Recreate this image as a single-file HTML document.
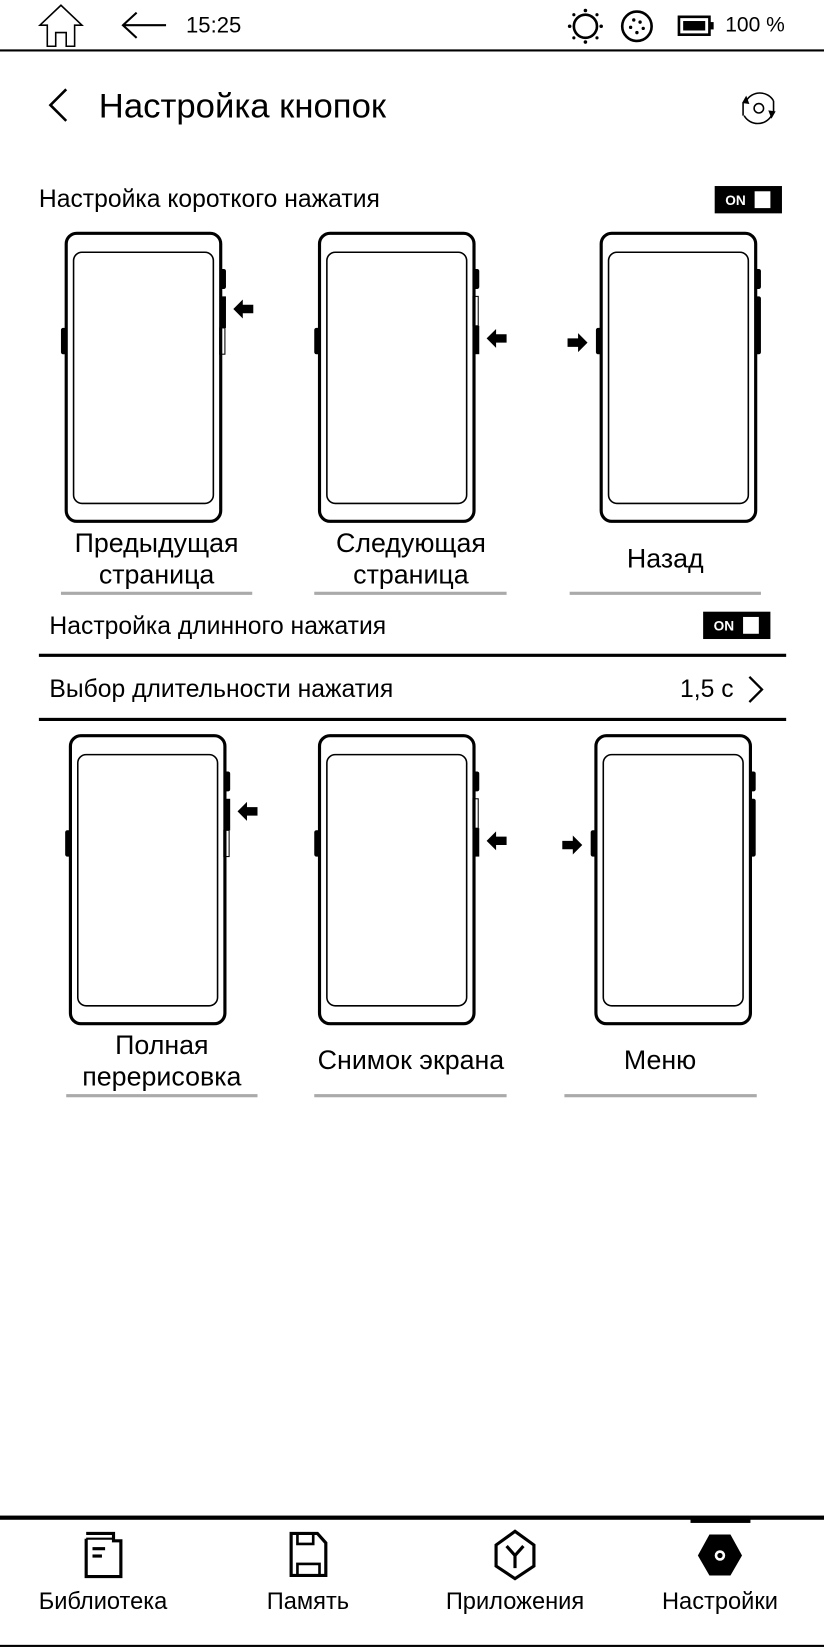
<!DOCTYPE html>
<html><head><meta charset="utf-8"><style>
html,body{margin:0;padding:0;background:#fff;width:824px;height:1648px;overflow:hidden}
#w{position:absolute;left:0;top:0;width:784px;height:1568px;transform:scale(1.05102);transform-origin:0 0;font-family:"Liberation Sans",sans-serif;color:#000}
.a{position:absolute}
.t{position:absolute;white-space:nowrap;line-height:1}
.c{position:absolute;text-align:center;line-height:30px;font-size:25.5px;width:240px}
.ul{position:absolute;height:3px;background:#aaa}
.tog{position:absolute;width:64px;height:26px;background:#000;color:#fff;font-weight:bold;font-size:13px}
.tog span{position:absolute;left:10px;top:6px}
.tog i{position:absolute;left:38px;top:5px;width:15px;height:16px;background:#fff}
.nl{position:absolute;font-size:22.5px;text-align:center;width:200px;top:1511px}
</style></head><body><div id="w">
<svg class="a" style="left:0;top:0" width="784" height="52">
<path d="M58 5 L38 24 L45 24 L45 44 L53 44 L53 31 L63 31 L63 44 L71 44 L71 24 L78 24 Z" fill="none" stroke="#000" stroke-width="1.5"/>
<path d="M158 24 H118 M130 12 L117 24 L130 36" fill="none" stroke="#000" stroke-width="2"/>
<circle cx="557" cy="25" r="11" fill="none" stroke="#000" stroke-width="2.5"/>
<g fill="#000"><circle cx="557" cy="10" r="1.7"/><circle cx="557" cy="40" r="1.7"/><circle cx="542" cy="25" r="1.7"/><circle cx="572" cy="25" r="1.7"/><circle cx="546" cy="14" r="1.5"/><circle cx="568" cy="14" r="1.5"/><circle cx="546" cy="36" r="1.5"/><circle cx="568" cy="36" r="1.5"/></g>
<circle cx="606" cy="25" r="14" fill="none" stroke="#000" stroke-width="2.5"/>
<g fill="#000"><circle cx="603" cy="19" r="1.6"/><circle cx="609" cy="21" r="1.6"/><circle cx="600" cy="26" r="1.6"/><circle cx="612" cy="27" r="1.6"/><circle cx="606" cy="31" r="1.6"/></g>
<rect x="646" y="16" width="29" height="17" fill="none" stroke="#000" stroke-width="2.5"/><rect x="650" y="20" width="21" height="9"/><rect x="676" y="21" width="3" height="7"/>
<line x1="0" y1="48" x2="784" y2="48" stroke="#000" stroke-width="2"/>
</svg>
<div class="t" style="left:177px;top:14px;font-size:21px">15:25</div>
<div class="t" style="left:690px;top:14px;font-size:20px">100 %</div>
<svg class="a" style="left:40px;top:82px" width="40" height="40"><path d="M23 3 L8 18 L23 33" fill="none" stroke="#000" stroke-width="2.5"/></svg>
<div class="t" style="left:94px;top:84px;font-size:33px">Настройка кнопок</div>
<svg class="a" style="left:700px;top:82px" width="44" height="42">
<path d="M10 14 A15 15 0 0 1 36 14" fill="none" stroke="#000" stroke-width="1.5"/><path d="M34 28 A15 15 0 0 1 8 28" fill="none" stroke="#000" stroke-width="1.5"/>
<path d="M6 16 L10 9 L13 17 Z M38 24 L34 31 L31 23 Z"/><circle cx="22" cy="21" r="4.5" fill="none" stroke="#000" stroke-width="1.5"/>
<line x1="7" y1="16" x2="7" y2="28" stroke="#000" stroke-width="1.5"/><line x1="36" y1="14" x2="36" y2="25" stroke="#000" stroke-width="1.5"/></svg>
<div class="t" style="left:37px;top:178px;font-size:23.5px">Настройка короткого нажатия</div>
<div class="tog" style="left:680px;top:177px"><span>ON</span><i></i></div>

<svg class="a" style="left:28px;top:217px" width="230" height="290">
<g transform="translate(25,0)"><rect x="10" y="5" width="147" height="274" rx="10" fill="none" stroke="#000" stroke-width="3"/><rect x="17" y="23" width="133" height="239" rx="8" fill="none" stroke="#000" stroke-width="1.5"/>
<rect x="5" y="95" width="6" height="25" rx="2"/><rect x="156" y="39" width="6" height="19" rx="2"/><rect x="156" y="65" width="6" height="30"/><rect x="156" y="95" width="5" height="25" fill="none" stroke="#000" stroke-width="1"/>
<path d="M169 77 L178 68 L178 73 L188 73 L188 81 L178 81 L178 86 Z"/></g></svg>
<svg class="a" style="left:269px;top:217px" width="230" height="290">
<g transform="translate(25,0)"><rect x="10" y="5" width="147" height="274" rx="10" fill="none" stroke="#000" stroke-width="3"/><rect x="17" y="23" width="133" height="239" rx="8" fill="none" stroke="#000" stroke-width="1.5"/>
<rect x="5" y="95" width="6" height="25" rx="2"/><rect x="156" y="39" width="6" height="19" rx="2"/><rect x="156" y="65" width="5" height="28" fill="none" stroke="#000" stroke-width="1"/><rect x="156" y="93" width="6" height="27"/>
<path d="M169 105 L178 96 L178 101 L188 101 L188 109 L178 109 L178 114 Z"/></g></svg>
<svg class="a" style="left:537px;top:217px" width="230" height="290">
<g transform="translate(25,0)"><rect x="10" y="5" width="147" height="274" rx="10" fill="none" stroke="#000" stroke-width="3"/><rect x="17" y="23" width="133" height="239" rx="8" fill="none" stroke="#000" stroke-width="1.5"/>
<rect x="5" y="95" width="6" height="25" rx="2"/><rect x="156" y="39" width="6" height="19" rx="2"/><rect x="156" y="65" width="6" height="55" rx="2"/>
<path d="M-3 109 L-12 100 L-12 105 L-22 105 L-22 113 L-12 113 L-12 118 Z"/></g></svg>

<div class="c" style="left:29px;top:502px">Предыдущая<br>страница</div><div class="ul" style="left:58px;top:563px;width:182px"></div>
<div class="c" style="left:271px;top:502px">Следующая<br>страница</div><div class="ul" style="left:299px;top:563px;width:183px"></div>
<div class="c" style="left:513px;top:517px">Назад</div><div class="ul" style="left:542px;top:563px;width:182px"></div>

<div class="t" style="left:47px;top:584px;font-size:23.5px">Настройка длинного нажатия</div>
<div class="tog" style="left:669px;top:582px"><span>ON</span><i></i></div>
<div class="a" style="left:37px;top:622px;width:711px;height:3px;background:#000"></div>
<div class="t" style="left:47px;top:644px;font-size:23.5px">Выбор длительности нажатия</div>
<div class="t" style="left:647px;top:644px;font-size:23.5px">1,5 с</div>
<svg class="a" style="left:708px;top:642px" width="24" height="28"><path d="M5 2 L17 14 L5 26" fill="none" stroke="#000" stroke-width="2.2"/></svg>
<div class="a" style="left:37px;top:683px;width:711px;height:3px;background:#000"></div>

<svg class="a" style="left:32px;top:695px" width="230" height="290">
<g transform="translate(25,0)"><rect x="10" y="5" width="147" height="274" rx="10" fill="none" stroke="#000" stroke-width="3"/><rect x="17" y="23" width="133" height="239" rx="8" fill="none" stroke="#000" stroke-width="1.5"/>
<rect x="5" y="95" width="6" height="25" rx="2"/><rect x="156" y="39" width="6" height="19" rx="2"/><rect x="156" y="65" width="6" height="30"/><rect x="156" y="95" width="5" height="25" fill="none" stroke="#000" stroke-width="1"/>
<path d="M169 77 L178 68 L178 73 L188 73 L188 81 L178 81 L178 86 Z"/></g></svg>
<svg class="a" style="left:269px;top:695px" width="230" height="290">
<g transform="translate(25,0)"><rect x="10" y="5" width="147" height="274" rx="10" fill="none" stroke="#000" stroke-width="3"/><rect x="17" y="23" width="133" height="239" rx="8" fill="none" stroke="#000" stroke-width="1.5"/>
<rect x="5" y="95" width="6" height="25" rx="2"/><rect x="156" y="39" width="6" height="19" rx="2"/><rect x="156" y="65" width="5" height="28" fill="none" stroke="#000" stroke-width="1"/><rect x="156" y="93" width="6" height="27"/>
<path d="M169 105 L178 96 L178 101 L188 101 L188 109 L178 109 L178 114 Z"/></g></svg>
<svg class="a" style="left:532px;top:695px" width="230" height="290">
<g transform="translate(25,0)"><rect x="10" y="5" width="147" height="274" rx="10" fill="none" stroke="#000" stroke-width="3"/><rect x="17" y="23" width="133" height="239" rx="8" fill="none" stroke="#000" stroke-width="1.5"/>
<rect x="5" y="95" width="6" height="25" rx="2"/><rect x="156" y="39" width="6" height="19" rx="2"/><rect x="156" y="65" width="6" height="55" rx="2"/>
<path d="M-3 109 L-12 100 L-12 105 L-22 105 L-22 113 L-12 113 L-12 118 Z"/></g></svg>

<div class="c" style="left:34px;top:980px">Полная<br>перерисовка</div><div class="ul" style="left:63px;top:1041px;width:182px"></div>
<div class="c" style="left:271px;top:994px">Снимок экрана</div><div class="ul" style="left:299px;top:1041px;width:183px"></div>
<div class="c" style="left:508px;top:994px">Меню</div><div class="ul" style="left:537px;top:1041px;width:183px"></div>

<div class="a" style="left:0;top:1442px;width:784px;height:4px;background:#000"></div>
<div class="a" style="left:657px;top:1444px;width:57px;height:5px;background:#000"></div>
<svg class="a" style="left:0;top:1450px" width="784" height="60">
<path d="M82 14 V50 H115 V16 H108 V9 H82" fill="none" stroke="#000" stroke-width="3"/><line x1="82" y1="14" x2="108" y2="14" stroke="#000" stroke-width="2"/>
<rect x="88" y="22" width="12" height="3"/><rect x="88" y="29" width="9" height="3"/>
<path d="M277 9 H302 L310 18 V49 H277 Z" fill="none" stroke="#000" stroke-width="3"/><rect x="283" y="9" width="15" height="10" fill="none" stroke="#000" stroke-width="2.5"/><rect x="283" y="38" width="21" height="11" fill="none" stroke="#000" stroke-width="2.5"/>
<path d="M490 7 L508 20 V40 L490 52 L472 40 V20 Z" fill="none" stroke="#000" stroke-width="3"/><path d="M482 21 L490 30 L498 21 M490 30 V42" fill="none" stroke="#000" stroke-width="3"/>
<path d="M675 10 H695 L706 30 L695 49 H675 L664 30 Z"/><circle cx="685" cy="30" r="5" fill="#fff"/><circle cx="685" cy="30" r="2.5"/>
</svg>
<div class="nl" style="left:-2px">Библиотека</div>
<div class="nl" style="left:193px">Память</div>
<div class="nl" style="left:390px">Приложения</div>
<div class="nl" style="left:585px">Настройки</div>
<div class="a" style="left:0;top:1565px;width:784px;height:2px;background:#000"></div>
</div></body></html>
